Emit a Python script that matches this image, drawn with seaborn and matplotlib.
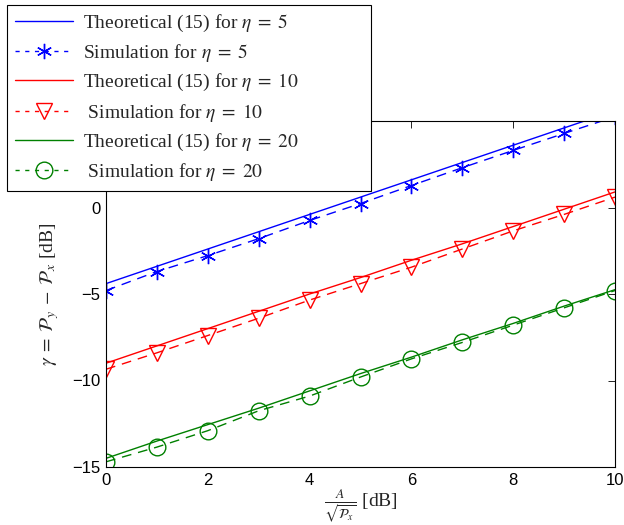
import numpy as np
import pandas as pd
import matplotlib
matplotlib.use("Agg")
import matplotlib.pyplot as plt
import seaborn as sns
from matplotlib.lines import Line2D

x_db = [0, 1, 2, 3, 4, 5, 6, 7, 8, 9, 10]

theo_eta5 = [-4.4, -3.4, -2.4, -1.4, -0.4, 0.6, 1.6, 2.6, 3.6, 4.6, 5.6]
sim_eta5 = [-4.8, -3.7, -2.78, -1.8, -0.75, 0.23, 1.27, 2.3, 3.3, 4.28, 5.25]
theo_eta10 = [-9.0, -8.0, -7.0, -6.0, -5.0, -4.05, -3.05, -2.1, -1.1, -0.1, 0.9]
sim_eta10 = [-9.35, -8.4, -7.4, -6.4, -5.35, -4.4, -3.45, -2.4, -1.35, -0.4, 0.6]
theo_eta20 = [-14.5, -13.5, -12.55, -11.6, -10.6, -9.6, -8.65, -7.65, -6.7, -5.7, -4.75]
sim_eta20 = [-14.7, -13.85, -12.9, -11.75, -10.9, -9.8, -8.75, -7.8, -6.8, -5.8, -4.8]

labels = [
    r"Theoretical (15) for $\eta\;=\;5$",
    r"Simulation for $\eta\;=\;5$",
    r"Theoretical (15) for $\eta\;=\;10$",
    r" Simulation for $\eta\;=\;10$",
    r"Theoretical (15) for $\eta\;=\;20$",
    r" Simulation for $\eta\;=\;20$",
]

sns.set_style("white")
plt.rcParams["font.family"] = ["Liberation Sans", "DejaVu Sans"]
plt.rcParams["mathtext.fontset"] = "stix"

fig = plt.figure(figsize=(6.24, 5.25), dpi=100)
ax = fig.add_axes([106 / 624, 1 - 467 / 525, (615 - 106) / 624, (467 - 121) / 525])

dash = (7, 5)
asterisk = (6, 2, 0)
specs = [
    (theo_eta5, "blue", "-", None),
    (sim_eta5, "blue", "--", asterisk),
    (theo_eta10, "red", "-", None),
    (sim_eta10, "red", "--", "v"),
    (theo_eta20, "green", "-", None),
    (sim_eta20, "green", "--", "o"),
]
handles = []
for (vals, col, ls, mk), lab in zip(specs, labels):
    df = pd.DataFrame({"x": x_db, "y": vals})
    kw = dict(color=col, linewidth=1.0, ax=ax, legend=False)
    if mk is None:
        sns.lineplot(data=df, x="x", y="y", linestyle="-", **kw)
        handles.append(Line2D([], [], color=col, lw=1.0, ls="-"))
    else:
        ms = 11 if mk == asterisk else 12
        sns.lineplot(data=df, x="x", y="y", dashes=False, marker=mk,
                     markersize=ms, markerfacecolor="none", markeredgecolor=col,
                     markeredgewidth=1.0, **kw)
        ax.lines[-1].set_dashes(dash)
        handles.append(Line2D([], [], color=col, lw=1.0, ls=(0, (3, 4)), marker=mk,
                              markersize=ms, markerfacecolor="none",
                              markeredgecolor=col, markeredgewidth=1.0))

ax.set_xlim(0, 10)
ax.set_ylim(-15, 5)
ax.set_xticks([0, 2, 4, 6, 8, 10])
ax.set_yticks([-15, -10, -5, 0])
for s in ax.spines.values():
    s.set_visible(True)
    s.set_color("black")
    s.set_linewidth(0.8)
ax.tick_params(direction="in", top=True, right=True, length=5, width=0.6,
               labelsize=12, colors="black", pad=4)
ax.set_xlabel(r"$\frac{A}{\sqrt{\mathcal{P}_x}}$ [dB]", fontsize=14,
              family="Liberation Serif", labelpad=0)
ax.set_ylabel(r"$\gamma\;=\;\mathcal{P}_y\;-\;\mathcal{P}_x$ [dB]", fontsize=14,
              family="Liberation Serif", labelpad=8)

leg = fig.legend(handles, labels, loc="upper left",
                 bbox_to_anchor=(7 / 624, 1 - 188 / 525, 364 / 624, 183 / 525),
                 mode="expand", frameon=True, fancybox=False, framealpha=1,
                 edgecolor="black", prop={"family": "Liberation Serif", "size": 14},
                 handlelength=3.0, handletextpad=0.5, labelspacing=0.42,
                 borderpad=0.4, borderaxespad=0)
leg.get_frame().set_linewidth(0.8)
leg.set_zorder(10)

fig.savefig("out.png", dpi=100, facecolor="white")
